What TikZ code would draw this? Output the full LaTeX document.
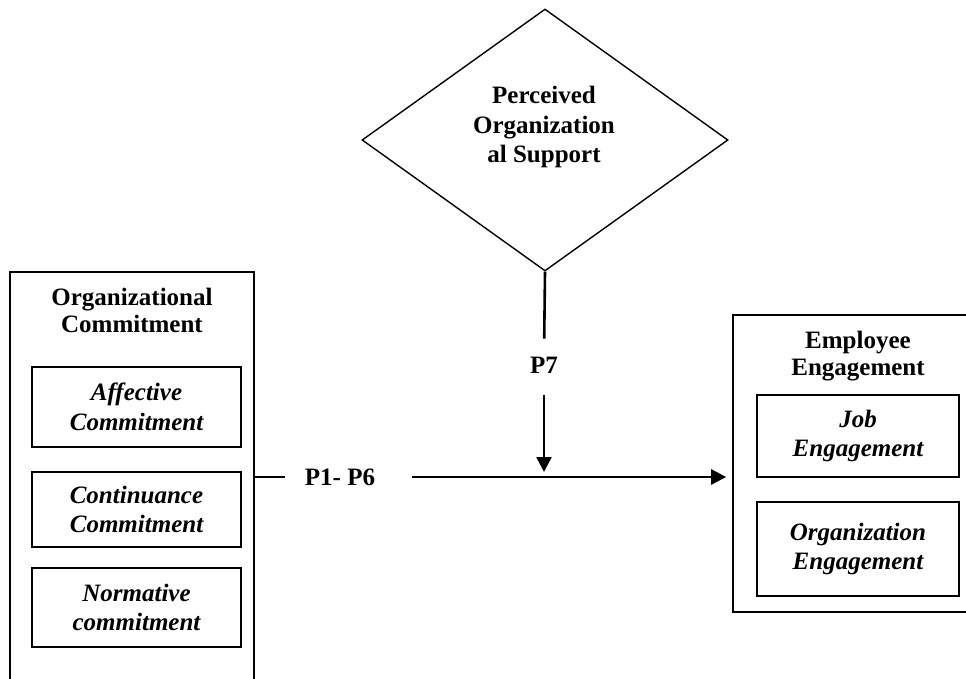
\documentclass[tikz,border=0pt]{standalone}
\usepackage{fontspec}
\setmainfont{Liberation Serif}
\usetikzlibrary{arrows.meta}
\usetikzlibrary{shapes.geometric}
\usetikzlibrary{positioning}

\begin{document}
\begin{tikzpicture}[x=1pt,y=-1pt,>={Triangle[length=15pt,width=15pt]},
                        outer box/.style={rectangle,draw,line width=1.6pt,inner sep=0pt},
                        inner box/.style={rectangle,draw,line width=1.6pt,inner sep=0pt,align=center,
                                          font=\fontsize{25}{29.5}\selectfont\bfseries\itshape},
                        title node/.style={inner sep=0pt,align=center,font=\fontsize{25}{27}\selectfont\bfseries},
                        link/.style={line width=2.6pt}]

        \useasboundingbox (0,0) rectangle (966,679);

        % organizational commitment (left)
        \node[outer box,minimum width=244pt,minimum height=430pt] (commit) at (132,487) {};
        \node[title node] (committitle) at (132,310) {Organizational\\Commitment};
        \node[inner box,minimum width=209pt,minimum height=80pt] (affective) at (136.5,407) {Affective\\Commitment};
        \node[inner box,minimum width=209pt,minimum height=75pt] (continuance) at (136.5,509.5) {Continuance\\Commitment};
        \node[inner box,minimum width=209pt,minimum height=79pt] (normative) at (136.5,607.5) {Normative\\commitment};

        % employee engagement (right)
        \node[outer box,minimum width=250pt,minimum height=297pt] (engage) at (858,463.5) {};
        \node[title node] (engagetitle) at (858,356) {Employee\\Engagement};
        \node[inner box,minimum width=202pt,minimum height=82pt] (job) at (858,436) {Job\\Engagement};
        \node[inner box,minimum width=202pt,minimum height=94pt] (orgengage) at (858,549) {Organization\\Engagement};

        % perceived organizational support
        \node[diamond,draw,line width=1.4pt,inner sep=0pt,minimum width=366pt,minimum height=262pt] (support) at (545,140) {};
        \node[title node,font=\fontsize{25}{29.5}\selectfont\bfseries] (supporttext) at (544,127) {Perceived\\Organization\\al Support};

        % path labels
        \node[title node] (pone) at (340,477) {P1- P6};
        \node[title node] (pseven) at (544,365) {P7};

        \begin{scope}[link]
            \draw (commit.east |- pone) -- (pone.west) [shorten >=20pt];
            \draw [->,shorten <=37pt,shorten >=6pt] (pone.east) -- (pone.east -| engage.west);
            \draw (support.south) -- (pseven.north) [shorten >=18pt];
            \draw [->,shorten <=22pt,shorten >=5pt] (pseven.south) -- (pseven |- pone);
        \end{scope}
    \end{tikzpicture}
\end{document}
